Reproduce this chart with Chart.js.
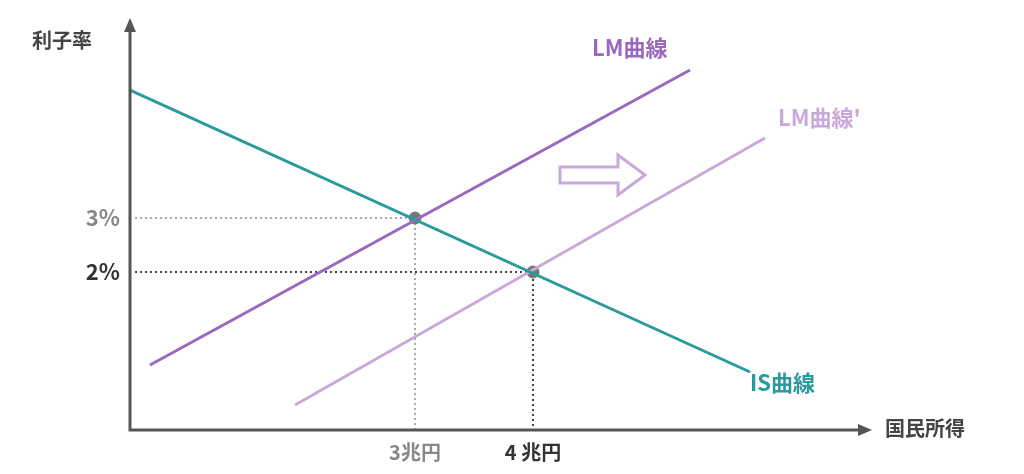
<!DOCTYPE html>
<html><head><meta charset="utf-8">
<script src="https://cdn.jsdelivr.net/npm/chart.js@4"></script>
<style>html,body{margin:0;background:#fff}#w{width:1024px;height:474px}</style>
</head><body><div id="w"><canvas id="c"></canvas></div>
<script>
// data space: x 0..740 (national income), y 0..410 (interest rate)
const isCurve = [{x:0,y:340},{x:620,y:58}];
const lmCurve = [{x:20,y:65},{x:560,y:360}];
const lmCurve2 = [{x:165,y:25},{x:635,y:292}];
const eqPoints = [{x:285,y:212},{x:403,y:158}];
const yTickLabels = ['3%','2%'];
const xTickLabels = ['3兆円','4 兆円'];
const F = '"Noto Sans CJK JP","Noto Sans",sans-serif';
const TEAL='#2b9a9c', PURP='#9a68bd', LPURP='#c9a9dc';

const overlay = {
  id:'overlay',
  beforeDatasetsDraw(ch){
    const c=ch.ctx, xs=ch.scales.x, ys=ch.scales.y;
    const X=v=>xs.getPixelForValue(v), Y=v=>ys.getPixelForValue(v);
    c.save();
    // dotted guides
    const cols=['#aaaaaa','#444444'];
    eqPoints.forEach((p,i)=>{
      c.strokeStyle=cols[i]; c.lineWidth=2; c.setLineDash([2,3]);
      c.beginPath(); c.moveTo(X(0)+5,Y(p.y)); c.lineTo(X(p.x),Y(p.y)); c.lineTo(X(p.x),Y(0)); c.stroke();
    });
    c.setLineDash([]);
    c.restore();
  },
  afterDatasetsDraw(ch){
    const c=ch.ctx, xs=ch.scales.x, ys=ch.scales.y;
    const X=v=>xs.getPixelForValue(v), Y=v=>ys.getPixelForValue(v);
    c.save();
    // axes
    c.strokeStyle='#555'; c.fillStyle='#555'; c.lineWidth=3;
    c.beginPath(); c.moveTo(X(0),Y(410)+10); c.lineTo(X(0),Y(0)); c.lineTo(X(740)-10,Y(0)); c.stroke();
    c.beginPath(); c.moveTo(X(0),Y(410)-2); c.lineTo(X(0)-6,Y(410)+12); c.lineTo(X(0)+6,Y(410)+12); c.closePath(); c.fill();
    c.beginPath(); c.moveTo(X(740)+2,Y(0)); c.lineTo(X(740)-12,Y(0)-6); c.lineTo(X(740)-12,Y(0)+6); c.closePath(); c.fill();
    // shift arrow
    const ax=560, ay=175;
    c.strokeStyle=LPURP; c.lineWidth=3; c.lineJoin='miter';
    c.beginPath(); c.moveTo(ax,ay-8); c.lineTo(ax+58,ay-8); c.lineTo(ax+58,ay-20); c.lineTo(ax+85,ay);
    c.lineTo(ax+58,ay+20); c.lineTo(ax+58,ay+8); c.lineTo(ax,ay+8); c.closePath(); c.stroke();
    // texts
    c.textBaseline='middle';
    const t=(s,x,y,col,al,sz)=>{c.fillStyle=col;c.textAlign=al;c.font='bold '+(sz||20)+'px '+F;c.fillText(s,x,y);};
    t('利子率',32,40,'#444','left');
    t(yTickLabels[0],120,Y(eqPoints[0].y),'#888','right',22);
    t(yTickLabels[1],120,Y(eqPoints[1].y),'#333','right',22);
    t(xTickLabels[0],X(eqPoints[0].x),452,'#888','center');
    t(xTickLabels[1],X(eqPoints[1].x),452,'#333','center');
    t('国民所得',885,428,'#444','left');
    t('LM曲線',592,48,PURP,'left',22);
    t("LM曲線'",778,118,LPURP,'left',22);
    t('IS曲線',750,383,TEAL,'left',22);
    c.restore();
  }
};

new Chart(document.getElementById('c'),{
  type:'scatter',
  data:{datasets:[
    {data:isCurve,showLine:true,borderColor:TEAL,borderWidth:3,pointRadius:0},
    {data:lmCurve,showLine:true,borderColor:PURP,borderWidth:3,pointRadius:0},
    {data:lmCurve2,showLine:true,borderColor:LPURP,borderWidth:3,pointRadius:0},
    {data:eqPoints,showLine:false,backgroundColor:'#777',borderColor:'#777',pointRadius:6}
  ]},
  options:{responsive:true,maintainAspectRatio:false,animation:false,
    layout:{padding:{left:130,right:154,top:20,bottom:44}},
    plugins:{legend:{display:false},tooltip:{enabled:false}},
    scales:{x:{type:'linear',min:0,max:740,display:false},y:{type:'linear',min:0,max:410,display:false}}
  },
  plugins:[overlay]
});
</script></body></html>
